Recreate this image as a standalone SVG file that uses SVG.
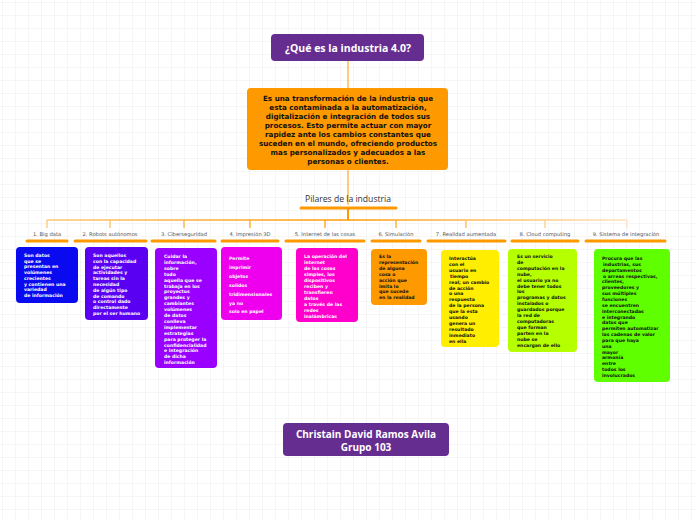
<svg xmlns="http://www.w3.org/2000/svg" width="696" height="520" viewBox="0 0 696 520">
<defs>
<pattern id="grid" width="13" height="13" patternUnits="userSpaceOnUse" x="2" y="2">
<path d="M13 0H0V13" fill="none" stroke="#e8e8e8" stroke-width="0.8"/>
</pattern>
<linearGradient id="hg" gradientUnits="userSpaceOnUse" x1="47" y1="0" x2="627" y2="0">
<stop offset="0" stop-color="#fcc872"/>
<stop offset="0.52" stop-color="#ff9a05"/>
<stop offset="1" stop-color="#fde3bd"/>
</linearGradient>
<style>
.top{font-family:"Open Sans","DejaVu Sans",sans-serif;font-weight:bold;fill:#fff;text-anchor:middle}
.main{font-family:"DejaVu Sans",sans-serif;font-weight:bold;font-size:7.2px;fill:#111;text-anchor:middle}
.lab{font-family:"DejaVu Sans",sans-serif;font-size:5.2px;fill:#555;text-anchor:middle}
.ul{stroke:#ff9900;stroke-width:3;stroke-linecap:round;fill:none}
.bt{font-family:"DejaVu Sans",sans-serif;font-weight:bold;font-size:4.6px}
.w{fill:#fff}.k{fill:#111}
</style>
</defs>
<rect width="696" height="520" fill="#fff"/>
<rect width="696" height="520" fill="url(#grid)"/>

<g id="connectors">
<line x1="348" y1="61" x2="348" y2="88" stroke="#ff9900" stroke-width="1"/>
<line x1="348" y1="170" x2="348" y2="205" stroke="#ff9900" stroke-width="1"/>
<line x1="348" y1="208" x2="348" y2="220" stroke="#ff9900" stroke-width="2"/>
<g stroke="url(#hg)" stroke-width="1.3" fill="none">
<line x1="47" y1="220" x2="627" y2="220"/>
<line x1="47" y1="220" x2="47" y2="228"/>
<line x1="110" y1="220" x2="110" y2="228"/>
<line x1="184" y1="220" x2="184" y2="228"/>
<line x1="250" y1="220" x2="250" y2="228"/>
<line x1="325" y1="220" x2="325" y2="228"/>
<line x1="396" y1="220" x2="396" y2="228"/>
<line x1="466" y1="220" x2="466" y2="228"/>
<line x1="545" y1="220" x2="545" y2="228"/>
<line x1="627" y1="220" x2="627" y2="228"/>
</g>
</g>

<g id="title">
<rect x="271" y="34" width="153" height="27" rx="4" fill="#662d91"/>
<text class="top" x="348" y="51.5" font-size="10.5">¿Qué es la industria 4.0?</text>
</g>

<g id="definicion">
<rect x="247" y="88" width="201" height="82" rx="4" fill="#ff9900"/>
<text class="main" x="348" y="101">Es una transformación de la industria que</text>
<text class="main" x="348" y="110">esta contaminada a la automatización,</text>
<text class="main" x="348" y="119">digitalización e integración de todos sus</text>
<text class="main" x="348" y="128">procesos. Esto permite actuar con mayor</text>
<text class="main" x="348" y="137">rapidez ante los cambios constantes que</text>
<text class="main" x="348" y="146">suceden en el mundo, ofreciendo productos</text>
<text class="main" x="348" y="155">mas personalizados y adecuados a las</text>
<text class="main" x="348" y="164">personas o clientes.</text>
</g>

<g id="pilares">
<text x="348" y="202" font-family="Open Sans, DejaVu Sans, sans-serif" font-size="8.6" fill="#333" text-anchor="middle">Pilares de la industria</text>
<line class="ul" x1="301" y1="208" x2="396" y2="208"/>
</g>

<g id="h1"><text class="lab" x="47" y="236">1. Big data</text><line class="ul" x1="27" y1="241" x2="67" y2="241"/></g>
<g id="h2"><text class="lab" x="110" y="236">2. Robots autónomos</text><line class="ul" x1="75" y1="241" x2="146" y2="241"/></g>
<g id="h3"><text class="lab" x="184" y="236">3. Ciberseguridad</text><line class="ul" x1="152" y1="241" x2="215" y2="241"/></g>
<g id="h4"><text class="lab" x="250" y="236">4. Impresión 3D</text><line class="ul" x1="222" y1="241" x2="278" y2="241"/></g>
<g id="h5"><text class="lab" x="325" y="236">5. Internet de las cosas</text><line class="ul" x1="286" y1="241" x2="364" y2="241"/></g>
<g id="h6"><text class="lab" x="396" y="236">6. Simulación</text><line class="ul" x1="372" y1="241" x2="420" y2="241"/></g>
<g id="h7"><text class="lab" x="466" y="236">7. Realidad aumentada</text><line class="ul" x1="428" y1="241" x2="505" y2="241"/></g>
<g id="h8"><text class="lab" x="545" y="236">8. Cloud computing</text><line class="ul" x1="512" y1="241" x2="578" y2="241"/></g>
<g id="h9"><text class="lab" x="626" y="236">9. Sistema de integración</text><line class="ul" x1="586" y1="241" x2="665" y2="241"/></g>

<g id="bigdata">
<rect x="16" y="247" width="62" height="56" rx="4" fill="#0a0af0"/>
<text class="bt w" x="24"><tspan x="24" y="257">Son datos</tspan><tspan x="24" y="262.7">que se</tspan><tspan x="24" y="268.4">presentan en</tspan><tspan x="24" y="274.1">volúmenes</tspan><tspan x="24" y="279.8">crecientes</tspan><tspan x="24" y="285.5">y contienen una</tspan><tspan x="24" y="291.2">variedad</tspan><tspan x="24" y="296.9">de información</tspan></text>
</g>

<g id="robots">
<rect x="85" y="247" width="63" height="73" rx="4" fill="#5a00f2"/>
<text class="bt w"><tspan x="93" y="257">Son aquellos</tspan><tspan x="93" y="262.8">con la capacidad</tspan><tspan x="93" y="268.6">de ejecutar</tspan><tspan x="93" y="274.4">actividades y</tspan><tspan x="93" y="280.2">tareas sin la</tspan><tspan x="93" y="286">necesidad</tspan><tspan x="93" y="291.8">de algún tipo</tspan><tspan x="93" y="297.6">de comando</tspan><tspan x="93" y="303.4">o control dado</tspan><tspan x="93" y="309.2">directamente</tspan><tspan x="93" y="315">por el ser humano</tspan></text>
</g>

<g id="ciberseguridad">
<rect x="155" y="248" width="62" height="120" rx="4" fill="#9900ff"/>
<text class="bt w"><tspan x="164" y="258">Cuidar la</tspan><tspan x="164" y="263.9">información,</tspan><tspan x="164" y="269.8">sobre</tspan><tspan x="164" y="275.7">todo</tspan><tspan x="164" y="281.6">aquella que se</tspan><tspan x="164" y="287.5">trabaja en los</tspan><tspan x="164" y="293.4">proyectos</tspan><tspan x="164" y="299.3">grandes y</tspan><tspan x="164" y="305.2">cambiantes</tspan><tspan x="164" y="311.1">volúmenes</tspan><tspan x="164" y="317">de datos</tspan><tspan x="164" y="322.9">conlleva</tspan><tspan x="164" y="328.8">implementar</tspan><tspan x="164" y="334.7">estrategias</tspan><tspan x="164" y="340.6">para proteger la</tspan><tspan x="164" y="346.5">confidencialidad</tspan><tspan x="164" y="352.4">e integración</tspan><tspan x="164" y="358.3">de dicha</tspan><tspan x="164" y="364.2">información</tspan></text>
</g>

<g id="impresion3d">
<rect x="221" y="247" width="61" height="73" rx="4" fill="#ee00ee"/>
<text class="bt w"><tspan x="229" y="260">Permite</tspan><tspan x="229" y="269">imprimir</tspan><tspan x="229" y="278">objetos</tspan><tspan x="229" y="287">solidos</tspan><tspan x="229" y="296">tridimensionales</tspan><tspan x="229" y="304.5">ya no</tspan><tspan x="229" y="313">solo en papel</tspan></text>
</g>

<g id="internet">
<rect x="296" y="248" width="62" height="74" rx="4" fill="#ff00cc"/>
<text class="bt w"><tspan x="304" y="258">La operación del</tspan><tspan x="304" y="264">internet</tspan><tspan x="304" y="270">de las cosas</tspan><tspan x="304" y="276">simples, los</tspan><tspan x="304" y="282">dispositivos</tspan><tspan x="304" y="288">reciben y</tspan><tspan x="304" y="294">transfieren</tspan><tspan x="304" y="300">datos</tspan><tspan x="304" y="306">a través de las</tspan><tspan x="304" y="312">redes</tspan><tspan x="304" y="318">inalámbricas</tspan></text>
</g>

<g id="simulacion">
<rect x="371" y="249" width="56" height="56" rx="4" fill="#ff9900"/>
<text class="bt k"><tspan x="379" y="258">Es la</tspan><tspan x="379" y="263.9">representación</tspan><tspan x="379" y="269.8">de alguna</tspan><tspan x="379" y="275.7">cosa o</tspan><tspan x="379" y="281.6">acción que</tspan><tspan x="379" y="287.5">imita lo</tspan><tspan x="379" y="293.4">que sucede</tspan><tspan x="379" y="299.3">en la realidad</tspan></text>
</g>

<g id="realidad">
<rect x="441" y="250" width="58" height="97" rx="4" fill="#ffee00"/>
<text class="bt k"><tspan x="449" y="260">Interactúa</tspan><tspan x="449" y="265.9">con el</tspan><tspan x="449" y="271.8">usuario en</tspan><tspan x="450" y="277.7">tiempo</tspan><tspan x="449" y="283.6">real; un cambio</tspan><tspan x="449" y="289.5">de acción</tspan><tspan x="449" y="295.4">o una</tspan><tspan x="449" y="301.3">respuesta</tspan><tspan x="449" y="307.2">de la persona</tspan><tspan x="449" y="313.1">que la esta</tspan><tspan x="449" y="319">usando</tspan><tspan x="449" y="324.9">genera un</tspan><tspan x="449" y="330.8">resultado</tspan><tspan x="449" y="336.7">inmediato</tspan><tspan x="449" y="342.6">en ella</tspan></text>
</g>

<g id="cloud">
<rect x="508" y="249" width="69" height="103" rx="4" fill="#b5ff00"/>
<text class="bt k"><tspan x="517" y="258">Es un servicio</tspan><tspan x="517" y="263.9">de</tspan><tspan x="517" y="269.8">computación en la</tspan><tspan x="517" y="275.7">nube,</tspan><tspan x="517" y="281.6">el usuario ya no</tspan><tspan x="517" y="287.5">debe tener todos</tspan><tspan x="517" y="293.4">los</tspan><tspan x="517" y="299.3">programas y datos</tspan><tspan x="517" y="305.2">instalados o</tspan><tspan x="517" y="311.1">guardados porque</tspan><tspan x="517" y="317">la red de</tspan><tspan x="517" y="322.9">computadoras</tspan><tspan x="517" y="328.8">que forman</tspan><tspan x="517" y="334.7">parten en la</tspan><tspan x="517" y="340.6">nube se</tspan><tspan x="517" y="346.5">encargan de ello</tspan></text>
</g>

<g id="sistema">
<rect x="594" y="249" width="76" height="133" rx="4" fill="#5fff00"/>
<text class="bt k"><tspan x="602" y="260">Procura que las</tspan><tspan x="603" y="265.85">industrias, sus</tspan><tspan x="602" y="271.7">departamentos</tspan><tspan x="603" y="277.55">o arreas respectivas,</tspan><tspan x="602" y="283.4">clientes,</tspan><tspan x="602" y="289.25">proveedores y</tspan><tspan x="602" y="295.1">sus múltiples</tspan><tspan x="602" y="300.95">funciones</tspan><tspan x="602" y="306.8">se encuentren</tspan><tspan x="602" y="312.65">interconectadas</tspan><tspan x="602" y="318.5">e integrando</tspan><tspan x="602" y="324.35">datos que</tspan><tspan x="602" y="330.2">permiten automatizar</tspan><tspan x="602" y="336.05">las cadenas de valor</tspan><tspan x="602" y="341.9">para que haya</tspan><tspan x="602" y="347.75">una</tspan><tspan x="602" y="353.6">mayor</tspan><tspan x="602" y="359.45">armonía</tspan><tspan x="602" y="365.3">entre</tspan><tspan x="602" y="371.15">todos los</tspan><tspan x="602" y="377">involucrados</tspan></text>
</g>

<g id="autor">
<rect x="283" y="423" width="166" height="33" rx="4" fill="#662d91"/>
<text class="top" x="366" y="438" font-size="10">Christain David Ramos Avila</text>
<text class="top" x="366" y="450.5" font-size="10">Grupo 103</text>
</g>
</svg>
